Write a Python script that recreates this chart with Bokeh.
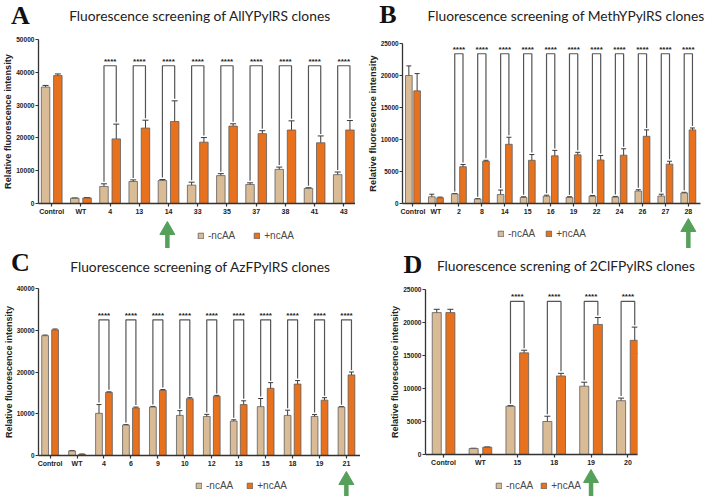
from bokeh.plotting import figure
from bokeh.layouts import row, column
from bokeh.models import (ColumnDataSource, Range1d, FixedTicker, Whisker, TeeHead,
                          Legend, LegendItem)
from bokeh.core.properties import value
from bokeh.embed import file_html
from bokeh.resources import INLINE

# ---- A: AllYPylRS clones ----
clones_a = ["Control", "WT", "4", "13", "14", "33", "35", "37", "38", "41", "43"]
minus_a = [35500, 1600, 5200, 6700, 7000, 5600, 8500, 5800, 10400, 4600, 8800]
minus_sd_a = [500, 100, 800, 500, 300, 900, 600, 500, 700, 200, 800]
plus_a = [39000, 1700, 19700, 23000, 25000, 18700, 23600, 21300, 22400, 18500, 22400]
plus_sd_a = [500, 100, 4500, 2400, 6300, 1400, 700, 900, 2800, 2100, 2900]

# ---- B: MethYPylRS clones ----
clones_b = ["Control", "WT", "2", "8", "14", "15", "16", "19", "22", "24", "26", "27", "28"]
minus_b = [20000, 1050, 1500, 700, 1400, 950, 1150, 950, 1150, 1000, 1950, 1150, 1650]
minus_sd_b = [1500, 400, 50, 50, 700, 100, 150, 100, 100, 100, 200, 300, 100]
plus_b = [17600, 900, 5750, 6600, 9250, 6750, 7450, 7600, 6800, 7550, 10500, 6150, 11500]
plus_sd_b = [2700, 100, 350, 150, 1100, 900, 850, 400, 700, 1000, 1000, 450, 300]

# ---- C: AzFPylRS clones ----
clones_c = ["Control", "WT", "4", "6", "9", "10", "12", "13", "15", "18", "19", "21"]
minus_c = [28700, 1100, 10100, 7300, 11600, 9600, 9350, 8250, 11700, 9600, 9350, 11600]
minus_sd_c = [150, 50, 2100, 100, 150, 1150, 500, 300, 1950, 1250, 450, 100]
plus_c = [30100, 300, 15100, 11400, 15600, 13600, 14200, 12200, 16100, 17100, 13250, 19300]
plus_sd_c = [200, 50, 150, 200, 200, 250, 200, 900, 1350, 850, 600, 700]

# ---- D: 2ClFPylRS clones ----
clones_d = ["Control", "WT", "15", "18", "19", "20"]
minus_d = [21500, 900, 7300, 5000, 10350, 8150]
minus_sd_d = [500, 50, 100, 800, 600, 400]
plus_d = [21500, 1100, 15400, 11900, 19700, 17300]
plus_sd_d = [500, 50, 400, 400, 1050, 2000]

# significance bracket level and the selected clone for each panel
bracket_a, pick_a = 42000, "14"
bracket_b, pick_b = 23400, "28"
bracket_c, pick_c = 32500, "21"
bracket_d, pick_d = 23200, "19"

TAN = "#d9bb96"
ORANGE = "#e8711e"
BAR_EDGE = "#5e5e5e"
ERR = "#3a3a3a"
BRACKET = "#555555"
GREEN = "#55a05a"
AXIS = "#333333"
SANS = "Liberation Sans"


def blank(width, height, x_range, y_range, left=0, right=0):
    f = figure(width=width, height=height, x_range=x_range, y_range=y_range,
               output_backend="svg", toolbar_location=None, tools="",
               x_axis_location=None, y_axis_location=None, frame_align=False,
               min_border=0, min_border_left=left, min_border_right=right,
               min_border_top=0, min_border_bottom=0)
    f.outline_line_color = None
    f.xgrid.visible = False
    f.ygrid.visible = False
    return f


def build_panel(letter, title, clones, minus, minus_sd, plus, plus_sd,
                bracket_y, pick, lay):
    n = len(clones)
    idx = list(range(n))
    w = lay["width"]
    bl, br = lay["lr"]
    head_h, frame_h, foot_h = lay["heights"]
    top_b, bot_b = 6, 13
    ymax = lay["ymax"]
    per_px = ymax / frame_h

    # ---- heading strip: panel letter and title ----
    head = blank(w, head_h, Range1d(0, w), Range1d(head_h, 0))
    lx, ly = lay["letter"]
    head.text(x=[lx], y=[ly], text=[letter], text_font=value("Liberation Serif"),
              text_font_style="bold", text_font_size="26px", text_align="center",
              text_baseline="middle", text_color="#111111")
    tx, ty = lay["title"]
    head.text(x=[tx], y=[ty], text=[title], text_font=value("Lato"),
              text_font_size=lay["title_size"], text_align="center",
              text_baseline="middle", text_color="#222222")

    # ---- bar chart ----
    p = figure(width=w, height=top_b + frame_h + bot_b,
               x_range=Range1d(*lay["xr"]), y_range=Range1d(0, ymax),
               output_backend="svg", toolbar_location=None, tools="", frame_align=False,
               min_border_left=bl, min_border_right=br,
               min_border_top=top_b, min_border_bottom=bot_b)
    p.outline_line_color = None
    p.xgrid.visible = False
    p.ygrid.visible = False

    off, bw = lay["offset"], lay["bar_w"]
    xm = [i - off for i in idx]
    xp = [i + off for i in idx]
    src_m = ColumnDataSource(dict(x=xm, top=minus,
                                  lo=[m - s for m, s in zip(minus, minus_sd)],
                                  hi=[m + s for m, s in zip(minus, minus_sd)]))
    src_p = ColumnDataSource(dict(x=xp, top=plus,
                                  lo=[m - s for m, s in zip(plus, plus_sd)],
                                  hi=[m + s for m, s in zip(plus, plus_sd)]))
    bar_style = dict(line_color=BAR_EDGE, line_width=0.8)
    p.vbar(x="x", top="top", bottom=0, width=bw, source=src_m, fill_color=TAN, **bar_style)
    p.vbar(x="x", top="top", bottom=0, width=bw, source=src_p, fill_color=ORANGE, **bar_style)

    for src in (src_m, src_p):
        p.add_layout(Whisker(source=src, base="x", upper="hi", lower="lo",
                             line_color=ERR, line_width=1,
                             upper_head=TeeHead(size=lay["cap"], line_color=ERR, line_width=1),
                             lower_head=TeeHead(size=lay["cap"], line_color=ERR, line_width=1)))

    # significance brackets between -ncAA and +ncAA for each clone
    sel = [i for i in idx if clones[i] not in ("Control", "WT")]
    gap = 2 * per_px
    xs = [[xm[i], xm[i], xp[i], xp[i]] for i in sel]
    ys = [[minus[i] + minus_sd[i] + gap, bracket_y, bracket_y, plus[i] + plus_sd[i] + gap]
          for i in sel]
    p.multi_line(xs=xs, ys=ys, line_color=BRACKET, line_width=1.2)
    p.text(x=sel, y=[bracket_y] * len(sel), text=["****"] * len(sel),
           text_font=value(SANS), text_font_style="bold", text_font_size="8px",
           text_align="center", text_baseline="bottom", text_color="#222222")

    # axes
    p.xaxis.ticker = FixedTicker(ticks=idx)
    p.xaxis.major_label_overrides = {i: c for i, c in enumerate(clones)}
    p.yaxis.ticker = FixedTicker(ticks=list(range(0, ymax + 1, lay["ystep"])))
    p.yaxis.axis_label = "Relative fluorescence intensity"
    p.yaxis.axis_label_text_font = SANS
    p.yaxis.axis_label_text_font_style = "bold"
    p.yaxis.axis_label_text_font_size = lay["ylabel_size"]
    p.yaxis.axis_label_text_color = "#222222"
    p.yaxis.axis_label_standoff = 0
    for ax in (p.xaxis, p.yaxis):
        ax.axis_line_color = AXIS
        ax.axis_line_width = 1.3
        ax.major_tick_line_color = AXIS
        ax.major_tick_line_width = 1.2
        ax.major_tick_in = 0
        ax.major_tick_out = 3
        ax.minor_tick_line_color = None
        ax.major_label_text_font = SANS
        ax.major_label_text_font_style = "bold"
        ax.major_label_text_color = "#222222"
        ax.major_label_standoff = 1
    p.xaxis.major_label_text_font_size = "7px"
    p.yaxis.major_label_text_font_size = lay["ytick_size"]

    # ---- strip below the axis: legend and arrow at the chosen clone ----
    foot = blank(w, foot_h, p.x_range, Range1d(foot_h, 0), left=bl, right=br)
    # hidden copies of the two bar series, used only as legend keys
    km = foot.vbar(x="x", top="top", width=bw, source=src_m, fill_color=TAN,
                   visible=False, **bar_style)
    kp = foot.vbar(x="x", top="top", width=bw, source=src_p, fill_color=ORANGE,
                   visible=False, **bar_style)
    gx, gy = lay["legend"]
    leg = Legend(items=[LegendItem(label="-ncAA", renderers=[km]),
                        LegendItem(label="+ncAA", renderers=[kp])],
                 location=(gx - bl, foot_h - (gy + 5.5)), orientation="horizontal",
                 padding=0, margin=0, spacing=lay["leg_spacing"],
                 glyph_width=7, glyph_height=7, label_standoff=4,
                 label_height=9, label_text_font=SANS, label_text_font_size="10px",
                 label_text_color="#4a4a4a", border_line_color=None,
                 background_fill_alpha=0, inactive_fill_alpha=0)
    foot.add_layout(leg, "center")

    k = clones.index(pick)
    tip = lay["arrow_tip"]
    head_size = 15
    foot.segment(x0=[k], y0=[tip + 10], x1=[k], y1=[foot_h + 4],
                 line_color=GREEN, line_width=4.5)
    foot.scatter(x=[k], y=[tip + head_size * 0.577], marker="triangle", size=head_size,
                 fill_color=GREEN, line_color=GREEN, line_width=1)

    return column(head, p, foot, spacing=0)


lay_a = dict(width=355, lr=(36, 0), heights=(33, 165, 31), xr=(-0.452, 10.40),
             ymax=50000, ystep=10000, offset=0.21, bar_w=0.29, cap=6,
             ylabel_size="9.2px", ytick_size="6.6px",
             legend=(197, 18), leg_spacing=18, letter=(20, 15), title=(199.5, 15),
             title_size="13.8px", arrow_tip=4)
lay_b = dict(width=353, lr=(47, 8), heights=(37, 161, 31), xr=(-0.457, 12.53),
             ymax=25000, ystep=5000, offset=0.18, bar_w=0.29, cap=5,
             ylabel_size="9.3px", ytick_size="6.4px",
             legend=(497 - 355, 16.3), leg_spacing=10, letter=(32.5, 14), title=(210.5, 15),
             title_size="13.8px", arrow_tip=1)
lay_c = dict(width=360, lr=(35, 0), heights=(34, 168, 27), xr=(-0.43, 11.52),
             ymax=40000, ystep=10000, offset=0.185, bar_w=0.25, cap=5,
             ylabel_size="9px", ytick_size="6.4px",
             legend=(195, 16.3), leg_spacing=13, letter=(20, 13.5), title=(200, 18),
             title_size="13.8px", arrow_tip=2)
lay_d = dict(width=348, lr=(65, 71), heights=(35, 166, 28), xr=(-0.49, 5.26),
             ymax=25000, ystep=5000, offset=0.185, bar_w=0.245, cap=6,
             ylabel_size="9px", ytick_size="6.6px",
             legend=(495 - 360, 17), leg_spacing=7, letter=(52.5, 15.5), title=(205.5, 16.7),
             title_size="13.8px", arrow_tip=1)

pa = build_panel("A", "Fluorescence screening of AllYPylRS clones",
                 clones_a, minus_a, minus_sd_a, plus_a, plus_sd_a, bracket_a, pick_a, lay_a)
pb = build_panel("B", "Fluorescence screening of MethYPylRS clones",
                 clones_b, minus_b, minus_sd_b, plus_b, plus_sd_b, bracket_b, pick_b, lay_b)
pc = build_panel("C", "Fluorescence screening of AzFPylRS clones",
                 clones_c, minus_c, minus_sd_c, plus_c, plus_sd_c, bracket_c, pick_c, lay_c)
pd_ = build_panel("D", "Fluorescence screning of 2ClFPylRS clones",
                  clones_d, minus_d, minus_sd_d, plus_d, plus_sd_d, bracket_d, pick_d, lay_d)

layout = column(row(pa, pb, spacing=0), row(pc, pd_, spacing=0), spacing=0)

open("out.html", "w").write(file_html(layout, INLINE))
